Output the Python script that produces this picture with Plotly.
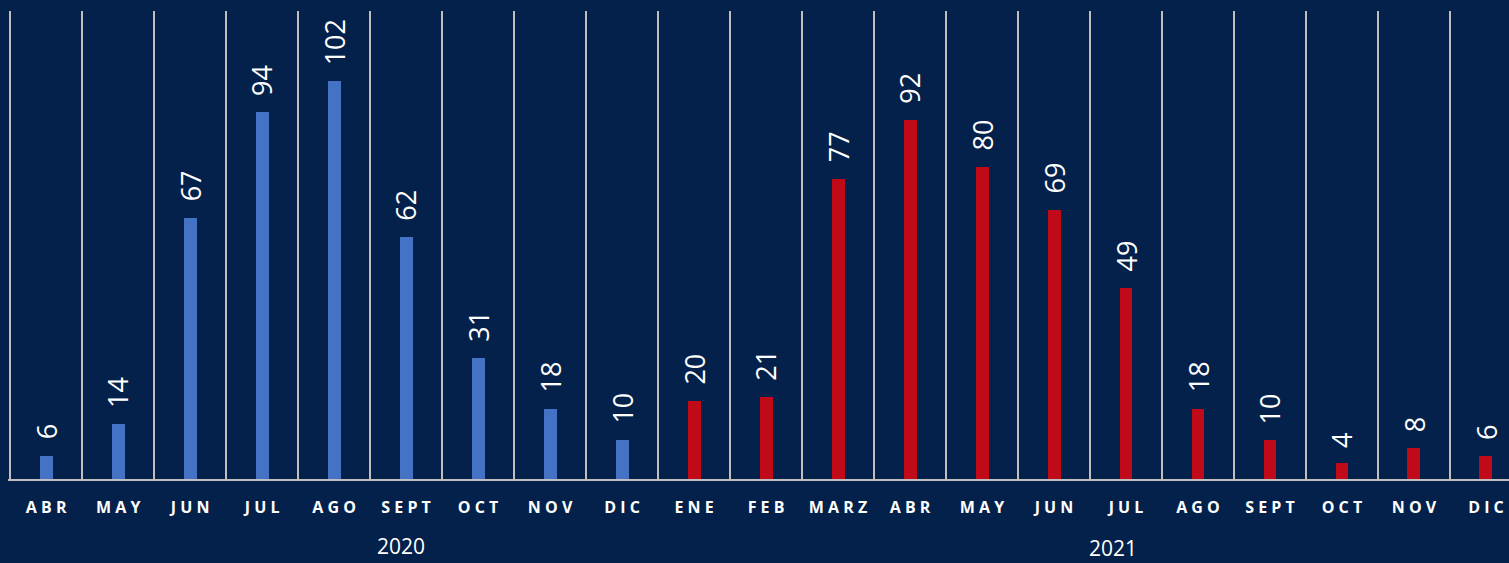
import plotly.graph_objects as go

months = ["ABR", "MAY", "JUN", "JUL", "AGO", "SEPT", "OCT", "NOV", "DIC",
          "ENE", "FEB", "MARZ", "ABR", "MAY", "JUN", "JUL", "AGO", "SEPT", "OCT", "NOV", "DIC"]
month_year = ["2020"] * 9 + ["2021"] * 12
values_2020 = [6, 14, 67, 94, 102, 62, 31, 18, 10]
values_2021 = [20, 21, 77, 92, 80, 69, 49, 18, 10, 4, 8, 6]
years = ["2020", "2021"]

BG = "#03214A"
BLUE = "#4472C4"
RED = "#C00A18"
GRID = "#BFBFBF"

keys = [f"{y}-{m}" for y, m in zip(month_year, months)]
k2020 = keys[:len(values_2020)]
k2021 = keys[len(values_2020):]

fig = go.Figure()
fig.add_trace(go.Bar(x=k2020, y=values_2020, marker_color=BLUE, width=0.18,
                     marker_line_width=0, showlegend=False, hoverinfo="skip"))
fig.add_trace(go.Bar(x=k2021, y=values_2021, marker_color=RED, width=0.18,
                     marker_line_width=0, showlegend=False, hoverinfo="skip"))

for xs, vs in ((k2020, values_2020), (k2021, values_2021)):
    for xv, v in zip(xs, vs):
        fig.add_annotation(x=xv, y=v, xref="x", yref="y", text=str(v), textangle=-90,
                           showarrow=False, yanchor="bottom", yshift=14,
                           font=dict(family="Open Sans", size=27, color="white"))

ticktext = ["<b>" + " ".join(m) + "</b>" for m in months]

fig.update_layout(
    width=1509, height=563,
    paper_bgcolor=BG, plot_bgcolor=BG,
    margin=dict(l=8, r=0, t=11, b=84),
    bargap=0,
    xaxis=dict(
        type="category", categoryorder="array", categoryarray=keys,
        tickmode="array", tickvals=keys, ticktext=ticktext,
        range=[-0.53, 20.32], tickson="boundaries",
        showgrid=True, gridcolor=GRID, gridwidth=2,
        showline=True, linecolor=GRID, linewidth=2,
        ticks="", ticklabelstandoff=13,
        tickfont=dict(family="Open Sans", size=16, color="white"),
        zeroline=False, fixedrange=True,
    ),
    yaxis=dict(range=[0, 120], showgrid=False, showticklabels=False,
               zeroline=False, showline=False, fixedrange=True),
)

fig.add_annotation(x=4.93, y=-0.143, xref="x", yref="paper", text=years[0],
                   showarrow=False, yanchor="middle",
                   font=dict(family="Open Sans", size=21, color="white"))
fig.add_annotation(x=14.82, y=-0.147, xref="x", yref="paper", text=years[1],
                   showarrow=False, yanchor="middle",
                   font=dict(family="Open Sans", size=21, color="white"))

fig.write_html("out.html", config={"displayModeBar": False},
               post_script="document.body.style.margin='0';")
